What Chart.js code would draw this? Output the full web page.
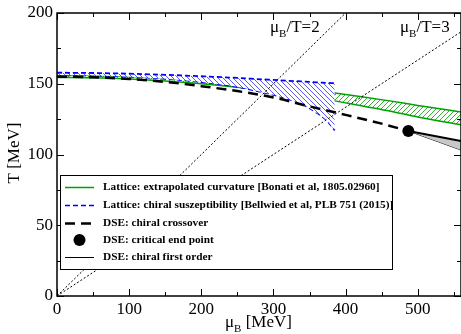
<!DOCTYPE html>
<html>
<head>
<meta charset="utf-8">
<script src="https://cdn.jsdelivr.net/npm/chart.js@4.4.1/dist/chart.umd.min.js"></script>
<style>
  body { margin: 0; background: #fff; }
  canvas { display: block; }
</style>
</head>
<body>
<canvas id="myChart" width="461" height="334"></canvas>
<script>
// mu_B [MeV] / T [MeV]
const greenMu    = [0, 50, 100, 150, 200, 250, 300, 350, 385, 420, 461, 500, 560];
const greenUpper = [156, 155.8, 155.15, 154.1, 152.6, 150.7, 148.35, 145.6, 143.4, 141.0, 137.9, 134.7, 130];
const greenLower = [154.5, 154.2, 153.4, 152.0, 150.0, 147.5, 144.4, 140.8, 137.9, 134.7, 130.7, 126.5, 121];

const blueMu    = [0, 50, 100, 150, 200, 250, 285, 300, 320, 340, 360, 375, 385];
const blueUpper = [157.8, 157.6, 157.1, 156.3, 155.3, 154.1, 153.1, 152.7, 152.1, 151.6, 151.0, 150.6, 150.3];
const blueLower = [156, 155.8, 155, 153.5, 151.2, 147.8, 144, 142.2, 139.3, 135.5, 129.5, 123.5, 117];

const dseMu = [0, 50, 100, 150, 200, 250, 300, 350, 400, 450, 487];
const dseT  = [155, 154.6, 153.4, 151.3, 148.3, 144.8, 140.3, 134, 128, 121.8, 116.6];

const cep = [487, 116.6];
const firstOrderMu    = [487, 560];
const firstOrderUpper = [116.6, 109.5];
const firstOrderLower = [116.6, 103.2];

const ratioLines = [
  {label: '2', mu: [0, 400], T: [0, 200]},
  {label: '3', mu: [0, 560], T: [0, 186.7]}
];

const legendLabels = [
  'Lattice: extrapolated curvature [Bonati et al, 1805.02960]',
  'Lattice: chiral suszeptibility [Bellwied et al, PLB 751 (2015)]',
  'DSE: chiral crossover',
  'DSE: critical end point',
  'DSE: chiral first order'
];

const xMax = 560, yMax = 200;

function pts(xs, ys) {
  return xs.map((x, i) => ({x: x, y: ys[i]}));
}

const ctx = document.getElementById('myChart').getContext('2d');

function hatch(color, dir, bg) {
  const s = 5;
  const c = document.createElement('canvas');
  c.width = s; c.height = s;
  const g = c.getContext('2d');
  if (bg) { g.fillStyle = bg; g.fillRect(0, 0, s, s); }
  g.strokeStyle = color;
  g.lineWidth = 0.8;
  g.beginPath();
  if (dir > 0) {
    g.moveTo(-1, s + 1); g.lineTo(s + 1, -1);
    g.moveTo(-s, s); g.lineTo(s, -s);
    g.moveTo(0, 2 * s); g.lineTo(2 * s, 0);
  } else {
    g.moveTo(-1, -1); g.lineTo(s + 1, s + 1);
    g.moveTo(-s, 0); g.lineTo(s, 2 * s);
    g.moveTo(0, -s); g.lineTo(2 * s, s);
  }
  g.stroke();
  return ctx.createPattern(c, 'repeat');
}

const serif = '"Liberation Serif", "Times New Roman", serif';

function muText(c, x, y, size, rest) {
  c.font = size + 'px ' + serif;
  c.fillText('\u03bc', x, y);
  let w = c.measureText('\u03bc').width;
  c.font = Math.round(size * 0.65) + 'px ' + serif;
  c.fillText('B', x + w, y + size * 0.3);
  w += c.measureText('B').width;
  c.font = size + 'px ' + serif;
  c.fillText(rest, x + w, y);
}

const framePlugin = {
  id: 'frame',
  afterDraw(chart) {
    const c = chart.ctx;
    const a = chart.chartArea;
    const xs = chart.scales.x, ys = chart.scales.y;
    c.save();
    c.strokeStyle = '#000';
    c.lineWidth = 1.5;
    c.strokeRect(a.left, a.top, a.right - a.left, a.bottom - a.top);
    c.lineWidth = 1;
    c.beginPath();
    // x ticks (major 100, minor 50) on bottom and top, inward
    for (let v = 0; v <= xMax; v += 50) {
      const px = Math.round(xs.getPixelForValue(v)) + 0.5;
      const len = v % 100 === 0 ? 7 : 4;
      c.moveTo(px, a.bottom); c.lineTo(px, a.bottom - len);
      c.moveTo(px, a.top); c.lineTo(px, a.top + len);
    }
    // y ticks (major 50, minor 25) on left and right
    for (let v = 0; v <= yMax; v += 25) {
      const py = Math.round(ys.getPixelForValue(v)) + 0.5;
      const len = v % 50 === 0 ? 7 : 4;
      c.moveTo(a.left, py); c.lineTo(a.left + len, py);
      c.moveTo(a.right, py); c.lineTo(a.right - len, py);
    }
    c.stroke();

    // axis titles
    c.fillStyle = '#000';
    c.textBaseline = 'alphabetic';
    c.textAlign = 'left';
    muText(c, 225, 327, 17, ' [MeV]');
    c.save();
    c.translate(19, 153);
    c.rotate(-Math.PI / 2);
    c.font = '17px ' + serif;
    c.textAlign = 'center';
    c.fillText('T [MeV]', 0, 0);
    c.restore();

    // mu_B/T labels
    muText(c, 270, 32, 17, '/T=' + ratioLines[0].label);
    muText(c, 400, 32, 17, '/T=' + ratioLines[1].label);

    // legend box
    const lx = 60, ly = 175, lw = 332, lh = 94;
    c.fillStyle = '#fff';
    c.fillRect(lx, ly, lw, lh);
    c.strokeStyle = '#000';
    c.lineWidth = 1;
    c.strokeRect(lx + 0.5, ly + 0.5, lw, lh);
    const rows = [187, 205, 223, 240, 257];
    const sx0 = 65, sx1 = 94;
    c.font = 'bold 11.3px ' + serif;
    c.textBaseline = 'middle';
    legendLabels.forEach((t, i) => {
      const y = rows[i];
      c.save();
      c.beginPath();
      if (i === 0) { c.strokeStyle = '#00a000'; c.lineWidth = 1.5; }
      if (i === 1) { c.strokeStyle = '#0000ff'; c.lineWidth = 1.5; c.setLineDash([5, 3]); }
      if (i === 2) { c.strokeStyle = '#000'; c.lineWidth = 2.5; c.setLineDash([10, 6]); }
      if (i === 4) { c.strokeStyle = '#000'; c.lineWidth = 1; }
      if (i === 3) {
        c.fillStyle = '#000';
        c.arc((sx0 + sx1) / 2, y, 6, 0, Math.PI * 2);
        c.fill();
      } else {
        c.moveTo(sx0, y + 0.5); c.lineTo(sx1, y + 0.5);
        c.stroke();
      }
      c.restore();
      c.fillStyle = '#000';
      c.fillText(t, 103, y + 0.5);
    });
    c.restore();
  }
};

const options = {
  type: 'line',
  data: {
    datasets: [
      {
        label: legendLabels[3],
        data: [{x: cep[0], y: cep[1]}],
        showLine: false,
        pointRadius: 6,
        pointBackgroundColor: '#000',
        pointBorderWidth: 0
      },
      {
        label: legendLabels[2],
        data: pts(dseMu, dseT),
        borderColor: '#000',
        borderWidth: 2.5,
        borderDash: [10, 6],
        pointRadius: 0,
        cubicInterpolationMode: 'monotone',
        fill: false
      },
      {
        label: legendLabels[4],
        data: pts(firstOrderMu, firstOrderUpper),
        borderColor: '#000',
        borderWidth: 2,
        pointRadius: 0,
        backgroundColor: '#c8c8c8',
        fill: '+1'
      },
      {
        label: 'first order lower',
        data: pts(firstOrderMu, firstOrderLower),
        borderColor: '#000',
        borderWidth: 1,
        pointRadius: 0,
        fill: false
      },
      ...ratioLines.map(r => ({
        label: 'muB/T=' + r.label,
        data: pts(r.mu, r.T),
        borderColor: '#000',
        borderWidth: 1,
        borderDash: [2, 2],
        pointRadius: 0,
        fill: false
      })),
      {
        label: legendLabels[1],
        data: pts(blueMu, blueUpper),
        borderColor: '#0000ff',
        borderWidth: 1.8,
        borderDash: [5, 3],
        pointRadius: 0,
        cubicInterpolationMode: 'monotone',
        backgroundColor: hatch('#3030ff', -1, '#ffffff'),
        fill: '+1'
      },
      {
        label: 'blue lower',
        data: pts(blueMu, blueLower),
        borderColor: '#0000ff',
        borderWidth: 1.8,
        borderDash: [5, 3],
        pointRadius: 0,
        cubicInterpolationMode: 'monotone',
        fill: false
      },
      {
        label: legendLabels[0],
        data: pts(greenMu, greenUpper),
        borderColor: '#00a000',
        borderWidth: 1.5,
        pointRadius: 0,
        cubicInterpolationMode: 'monotone',
        backgroundColor: hatch('#00a000', 1, null),
        fill: '+1'
      },
      {
        label: 'green lower',
        data: pts(greenMu, greenLower),
        borderColor: '#00a000',
        borderWidth: 1.5,
        pointRadius: 0,
        cubicInterpolationMode: 'monotone',
        fill: false
      }
    ]
  },
  options: {
    responsive: false,
    animation: false,
    devicePixelRatio: 1,
    layout: { autoPadding: false, padding: { top: 13, right: 0, left: 0, bottom: 0 } },
    plugins: {
      legend: { display: false },
      tooltip: { enabled: false }
    },
    scales: {
      x: {
        type: 'linear',
        min: 0,
        max: xMax,
        grid: { display: false, drawTicks: false },
        border: { display: false },
        ticks: {
          stepSize: 100,
          includeBounds: false,
          maxRotation: 0,
          padding: 3,
          color: '#000',
          font: { family: serif, size: 17 }
        },
        afterFit(scale) {
          scale.height = 38;
          scale.paddingLeft = 0;
          scale.paddingRight = 0;
        }
      },
      y: {
        min: 0,
        max: yMax,
        grid: { display: false, drawTicks: false },
        border: { display: false },
        ticks: {
          stepSize: 50,
          padding: 4,
          color: '#000',
          font: { family: serif, size: 17 }
        },
        afterFit(scale) {
          scale.width = 57;
          scale.paddingTop = 0;
          scale.paddingBottom = 0;
        }
      }
    }
  },
  plugins: [framePlugin]
};

new Chart(ctx, options);
</script>
</body>
</html>
